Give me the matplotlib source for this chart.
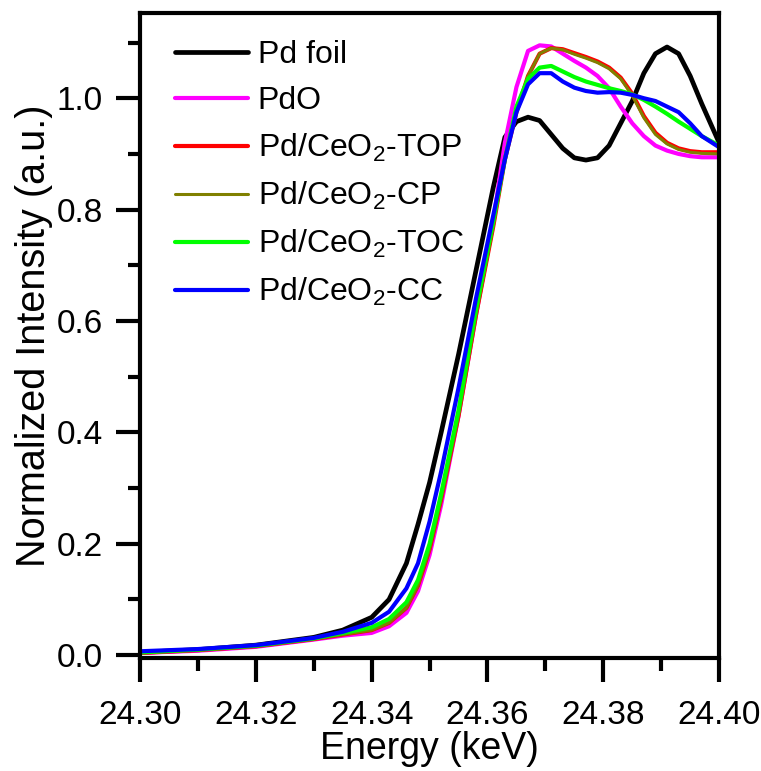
import matplotlib
matplotlib.use('Agg')
import matplotlib.pyplot as plt

plt.rcParams['font.family'] = ['Liberation Sans', 'DejaVu Sans']
plt.rcParams['mathtext.fontset'] = 'custom'
plt.rcParams['mathtext.rm'] = 'Liberation Sans'
plt.rcParams['mathtext.it'] = 'Liberation Sans:italic'

# energy grid (keV)
energy = [24.300, 24.310, 24.320, 24.330, 24.335, 24.340, 24.343, 24.346,
          24.348, 24.350, 24.352, 24.355, 24.358, 24.361, 24.363, 24.365,
          24.367, 24.369, 24.371, 24.373, 24.375, 24.377, 24.379, 24.381,
          24.383, 24.385, 24.387, 24.389, 24.391, 24.393, 24.395, 24.397,
          24.400]

pd_foil = [0.005, 0.010, 0.018, 0.032, 0.045, 0.068, 0.100, 0.165,
           0.235, 0.310, 0.400, 0.540, 0.690, 0.840, 0.930, 0.958,
           0.966, 0.960, 0.935, 0.910, 0.893, 0.889, 0.893, 0.915,
           0.955, 0.995, 1.045, 1.080, 1.092, 1.080, 1.040, 0.990,
           0.920]

pdo = [0.004, 0.008, 0.015, 0.028, 0.035, 0.040, 0.052, 0.076,
       0.115, 0.180, 0.270, 0.430, 0.610, 0.780, 0.920, 1.020,
       1.085, 1.095, 1.093, 1.080, 1.067, 1.055, 1.040, 1.018,
       0.985, 0.955, 0.932, 0.915, 0.906, 0.900, 0.896, 0.894,
       0.894]

top = [0.004, 0.009, 0.016, 0.029, 0.037, 0.045, 0.058, 0.085,
       0.125, 0.190, 0.280, 0.430, 0.610, 0.770, 0.890, 0.975,
       1.040, 1.080, 1.090, 1.088, 1.081, 1.074, 1.066, 1.055,
       1.037, 1.008, 0.968, 0.938, 0.920, 0.910, 0.905, 0.903,
       0.903]

cp = [0.004, 0.009, 0.016, 0.029, 0.037, 0.045, 0.058, 0.085,
      0.125, 0.190, 0.280, 0.430, 0.610, 0.770, 0.890, 0.975,
      1.040, 1.080, 1.090, 1.087, 1.079, 1.072, 1.064, 1.053,
      1.035, 1.005, 0.965, 0.935, 0.918, 0.908, 0.903, 0.901,
      0.900]

toc = [0.005, 0.010, 0.017, 0.030, 0.040, 0.050, 0.065, 0.095,
       0.135, 0.200, 0.290, 0.440, 0.620, 0.780, 0.890, 0.985,
       1.035, 1.055, 1.058, 1.048, 1.038, 1.030, 1.024, 1.018,
       1.013, 1.007, 0.997, 0.985, 0.972, 0.958, 0.945, 0.932,
       0.915]

cc = [0.007, 0.011, 0.018, 0.031, 0.042, 0.058, 0.078, 0.120,
      0.165, 0.240, 0.330, 0.480, 0.640, 0.790, 0.890, 0.975,
      1.025, 1.045, 1.045, 1.030, 1.019, 1.013, 1.010, 1.011,
      1.010, 1.006, 1.000, 0.995, 0.985, 0.975, 0.955, 0.932,
      0.912]

series = [
    ('Pd foil', pd_foil, 'black', 3.4),
    ('PdO', pdo, '#ff00ff', 3.0),
    (r'Pd/CeO$_2$-TOP', top, '#ff0000', 3.0),
    (r'Pd/CeO$_2$-CP', cp, '#808000', 2.2),
    (r'Pd/CeO$_2$-TOC', toc, '#00ff00', 3.0),
    (r'Pd/CeO$_2$-CC', cc, '#0000ff', 3.0),
]

fig = plt.figure(figsize=(7.61, 7.71), dpi=100)
ax = fig.add_axes([0.184, 0.1466, 0.761, 0.8365])

for label, vals, color, lw in series:
    ax.plot(energy, vals, color=color, lw=lw, label=label,
            solid_joinstyle='round', solid_capstyle='round')

ax.set_xlim(24.30, 24.40)
ax.set_ylim(-0.005, 1.153)
ax.set_xticks([24.30, 24.32, 24.34, 24.36, 24.38, 24.40])
ax.set_xticks([24.31, 24.33, 24.35, 24.37, 24.39], minor=True)
ax.set_yticks([0.0, 0.2, 0.4, 0.6, 0.8, 1.0])
ax.set_yticks([0.1, 0.3, 0.5, 0.7, 0.9, 1.1], minor=True)
ax.set_xticklabels(['24.30', '24.32', '24.34', '24.36', '24.38', '24.40'])
ax.set_yticklabels(['0.0', '0.2', '0.4', '0.6', '0.8', '1.0'])

for s in ax.spines.values():
    s.set_linewidth(3)
ax.tick_params(which='major', direction='out', length=17, width=3,
               labelsize=24, pad=10)
ax.tick_params(axis='x', which='major', pad=13)
ax.tick_params(which='minor', direction='out', length=9, width=3)

ax.set_xlabel('Energy (keV)', fontsize=27, labelpad=0)
ax.set_ylabel('Normalized Intensity (a.u.)', fontsize=28.5, labelpad=2)

ax.legend(loc='upper left', bbox_to_anchor=(0.06, 0.958), frameon=False,
          fontsize=23, handlelength=2.3, handletextpad=0.3,
          labelspacing=0.5, borderpad=0, borderaxespad=0)

fig.savefig('out.png', dpi=100)
